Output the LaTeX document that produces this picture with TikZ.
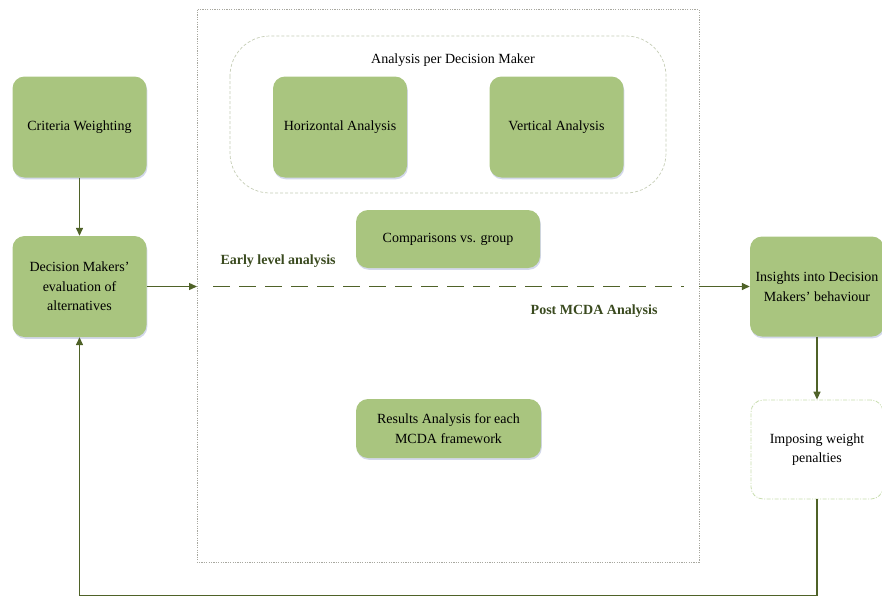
\documentclass[tikz,border=0pt]{standalone}
\usepackage{fontspec}
\setmainfont{Liberation Serif}
\usetikzlibrary{arrows.meta,shadows}
\definecolor{boxgreen}{HTML}{A9C57F}
\definecolor{arrowgreen}{HTML}{4F6228}
\definecolor{labelgreen}{HTML}{3A4A1F}
\definecolor{outerdash}{HTML}{A8A8A0}
\definecolor{innerdash}{HTML}{C4CCB4}
\definecolor{penaltydash}{HTML}{C8DDAE}
\definecolor{shadowblue}{HTML}{C8CEE6}
\tikzset{
  gbox/.style={draw=none, fill=boxgreen, rounded corners=12pt, align=center,
    text=black, font=\fontsize{14}{19.5}\selectfont,
    drop shadow={shadow xshift=0.8pt, shadow yshift=-1.8pt, fill=shadowblue, opacity=0.8}},
  wbox/.style={draw=penaltydash, dash pattern=on 4pt off 1.5pt on 1pt off 1.5pt, line width=0.8pt,
    fill=white, rounded corners=12pt, align=center, font=\fontsize{14}{19.5}\selectfont},
  arr/.style={draw=arrowgreen, line width=1.4pt, -{Triangle[length=8pt,width=7pt]}},
  biglabel/.style={font=\fontsize{14}{16}\selectfont\bfseries, text=labelgreen},
  txt/.style={font=\fontsize{14}{16}\selectfont, text=black}
}
\begin{document}
\begin{tikzpicture}[x=1pt,y=-1pt]
\useasboundingbox (0,0) rectangle (882,597);
% outer dotted frame
\draw[outerdash, line width=0.7pt, dash pattern=on 1.2pt off 1.2pt] (197,9.5) rectangle (699,562);
% inner rounded dashed region
\draw[innerdash, line width=0.7pt, dash pattern=on 3pt off 2pt, rounded corners=40pt] (230,36) rectangle (666,193);
\node[txt] (apdm) at (453,60) {Analysis per Decision Maker};

\node[gbox, minimum width=134pt, minimum height=101pt] (cw) at (79.5,127) {Criteria Weighting};
\node[gbox, minimum width=134pt, minimum height=101pt] (dm) at (79.5,286.5) {Decision Makers'\\evaluation of\\alternatives};
\node[gbox, minimum width=134pt, minimum height=101pt] (ha) at (340,127) {Horizontal Analysis};
\node[gbox, minimum width=134pt, minimum height=101pt] (va) at (556.5,127) {Vertical Analysis};
\node[gbox, minimum width=184pt, minimum height=58pt] (cg) at (448,239) {Comparisons vs. group};
\node[gbox, minimum width=185pt, minimum height=59pt] (ra) at (448.5,428.5) {Results Analysis for each\\MCDA framework};
\node[gbox, minimum width=134pt, minimum height=100pt, inner sep=1pt] (ins) at (817,286.5) {Insights into Decision\\Makers' behaviour};
\node[wbox, minimum width=132pt, minimum height=99pt] (imp) at (817,449.5) {Imposing weight\\penalties};

\node[biglabel, anchor=west] (ela) at (217,261) {Early level analysis};
\node[biglabel, anchor=east] (pma) at (661,311) {Post MCDA Analysis};

\coordinate (frameL) at (197,286.5);
\coordinate (frameR) at (699,286.5);
\coordinate (dashS) at (213,286.5);
\coordinate (dashE) at (684,286.5);
\coordinate (fbR) at (817,595.5);
\coordinate (fbL) at (79.5,595.5);

\draw[draw=arrowgreen, line width=1.6pt, dash pattern=on 17pt off 9pt] (dashS) -- (dashE);

\draw[arr] (cw) -- (dm);
\draw[arr] (dm.east) -- (frameL);
\draw[arr] (frameR) -- (ins.west);
\draw[arr] (ins) -- (imp);
\draw[arr] (imp.south) -- (fbR) -- (fbL) -- (dm.south);
\end{tikzpicture}
\end{document}
